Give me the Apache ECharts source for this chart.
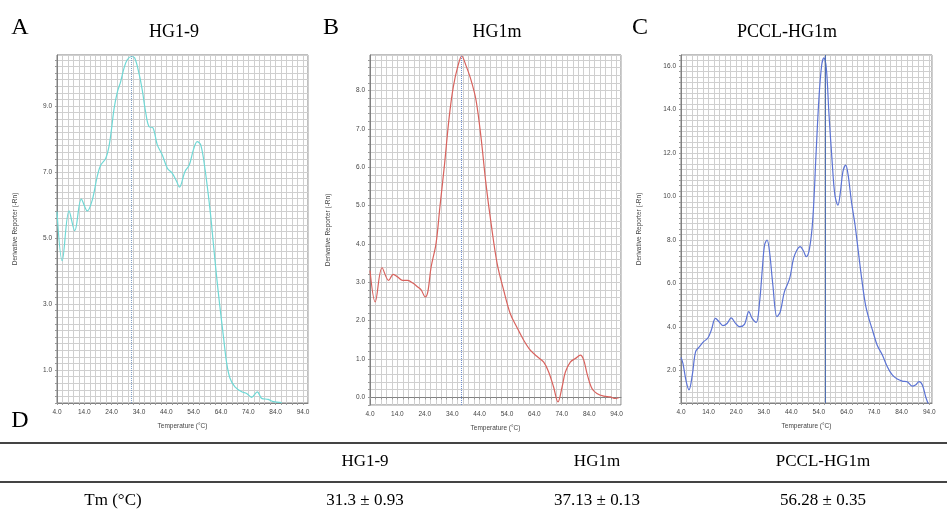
<!DOCTYPE html>
<html><head><meta charset="utf-8">
<script src="https://cdn.jsdelivr.net/npm/echarts@6/dist/echarts.min.js"></script>
<style>html,body{margin:0;padding:0;background:#fff}#c{width:947px;height:512px}</style>
</head><body><div id="c"></div>
<script>
// ---- data ----
const panelTitles = ['HG1-9', 'HG1m', 'PCCL-HG1m'];
const panelLetters = ['A', 'B', 'C'];
const tmValues = [31.3, 37.13, 56.28];
const tmText = ['31.3 ± 0.93', '37.13 ± 0.13', '56.28 ± 0.35'];
const xTickLabels = [4, 14, 24, 34, 44, 54, 64, 74, 84, 94];
const yTicksA = [1, 3, 5, 7, 9];
const yTicksB = [0, 1, 2, 3, 4, 5, 6, 7, 8];
const yTicksC = [2, 4, 6, 8, 10, 12, 14, 16];

const tempA = [4.0, 5.9, 8.4, 10.5, 12.9, 15.1, 16.9, 18.7, 20.0, 21.8, 23.0, 23.9, 24.9, 26.1, 27.3, 28.5, 29.7, 31.2, 32.4, 34.0, 35.2, 36.5, 37.7, 39.1, 40.7, 42.5, 44.4, 46.2, 47.8, 48.8, 50.8, 52.4, 53.9, 55.3, 56.6, 58.2, 60.0, 61.2, 62.4, 63.6, 64.9, 66.1, 67.3, 69.1, 71.6, 73.4, 75.2, 77.3, 78.9, 81.3, 83.1, 86.2];
const valA  = [5.8, 4.31, 5.82, 5.22, 6.18, 5.82, 6.15, 6.86, 7.21, 7.41, 7.77, 8.27, 8.93, 9.43, 9.74, 10.14, 10.4, 10.5, 10.46, 9.99, 9.48, 8.78, 8.37, 8.34, 7.82, 7.52, 7.11, 6.96, 6.71, 6.54, 7.01, 7.21, 7.67, 7.92, 7.82, 7.06, 5.85, 4.84, 3.83, 2.92, 2.01, 1.2, 0.75, 0.49, 0.34, 0.29, 0.17, 0.34, 0.14, 0.11, 0.04, 0.01];

const tempB = [4.0, 5.9, 8.4, 10.8, 12.5, 14.1, 15.9, 17.8, 19.6, 21.4, 22.6, 24.2, 25.1, 26.3, 28.1, 29.5, 31.1, 32.9, 34.4, 36.0, 37.5, 39.0, 40.9, 42.7, 44.5, 46.3, 48.2, 50.4, 52.8, 55.2, 57.6, 60.1, 62.5, 64.9, 67.4, 69.2, 71.0, 72.6, 74.1, 75.3, 77.1, 78.9, 80.8, 82.0, 83.2, 85.0, 86.8, 89.3, 91.7, 93.5, 94.8];
const valB  = [3.31, 2.49, 3.38, 3.05, 3.21, 3.14, 3.05, 3.05, 2.98, 2.88, 2.81, 2.62, 2.75, 3.4, 4.01, 4.96, 6.01, 7.31, 8.1, 8.62, 8.9, 8.66, 8.27, 7.75, 6.79, 5.58, 4.53, 3.49, 2.79, 2.18, 1.83, 1.49, 1.23, 1.07, 0.92, 0.66, 0.27, -0.12, 0.27, 0.66, 0.92, 1.01, 1.1, 0.97, 0.62, 0.23, 0.1, 0.03, 0.01, -0.03, -0.01];

const tempC = [4.0, 4.7, 5.9, 6.9, 8.1, 9.3, 10.7, 12.2, 13.8, 15.0, 16.5, 17.8, 19.2, 20.7, 22.2, 23.8, 25.2, 27.0, 28.6, 29.8, 31.3, 32.5, 33.5, 34.3, 35.2, 36.1, 37.3, 38.8, 40.0, 41.5, 43.4, 44.8, 46.0, 47.2, 48.4, 49.4, 50.6, 51.8, 53.0, 54.0, 55.0, 55.8, 56.7, 57.6, 58.8, 59.8, 60.9, 61.8, 62.7, 63.7, 64.6, 65.8, 67.1, 68.3, 69.5, 70.9, 72.1, 73.6, 75.1, 77.0, 78.8, 80.6, 82.4, 84.2, 86.0, 87.8, 89.0, 90.3, 91.5, 92.7, 93.7];
const valC  = [2.6, 2.32, 1.48, 1.1, 1.79, 2.86, 3.09, 3.32, 3.5, 3.86, 4.39, 4.24, 4.06, 4.16, 4.42, 4.16, 4.01, 4.12, 4.7, 4.39, 4.21, 5.16, 6.69, 7.77, 8.0, 7.46, 5.93, 4.47, 4.7, 5.62, 6.23, 7.15, 7.53, 7.69, 7.49, 7.23, 7.61, 8.99, 12.06, 14.5, 16.04, 16.38, 15.89, 13.89, 11.6, 10.06, 9.6, 10.22, 11.14, 11.44, 10.98, 9.76, 8.69, 7.46, 6.23, 5.01, 4.39, 3.78, 3.17, 2.71, 2.17, 1.79, 1.6, 1.51, 1.48, 1.28, 1.33, 1.48, 1.33, 0.79, 0.44];

const lineColors = ['#6fd8d5', '#d8625d', '#5b73d4'];
const markColors = ['#7f9fc8', '#6f8fd0', '#4f6fb0'];

// ---- build ----
const zip = (a, b) => a.map((t, i) => [t, b[i]]);
const near = (v, arr) => arr.some(t => Math.abs(v - t) < 1e-6);

const grids = [
  {left: 57, top: 55, width: 251, height: 348},
  {left: 370, top: 55, width: 251, height: 350},
  {left: 681, top: 55, width: 251, height: 348}
];
const xMax = [95.84, 95.6, 95.0];
const yCfg = [
  {min: 0, max: 10.545, interval: 0.2, ticks: yTicksA},
  {min: -0.2, max: 8.93, interval: 0.2, ticks: yTicksB},
  {min: 0.5, max: 16.51, interval: 0.25, ticks: yTicksC}
];
const seriesData = [zip(tempA, valA), zip(tempB, valB), zip(tempC, valC)];

const labelStyle = {fontSize: 6.5, color: '#444', fontFamily: 'Liberation Sans, Arial, sans-serif'};
const gridLine = {show: true, lineStyle: {color: '#cfcfcf', width: 1}};

const option = {
  backgroundColor: '#fff',
  animation: false,
  grid: grids.map(g => Object.assign({show: true, borderColor: '#808080', borderWidth: 1, backgroundColor: '#fff'}, g)),
  xAxis: grids.map((g, i) => ({
    type: 'value', gridIndex: i, min: 4, max: xMax[i], interval: 2,
    name: 'Temperature (°C)', nameLocation: 'middle', nameGap: 20,
    nameTextStyle: {fontSize: 6.5, color: '#444', fontFamily: 'Liberation Sans, Arial, sans-serif'},
    axisLine: {show: true, lineStyle: {color: '#808080'}},
    axisTick: {show: true, length: 2, lineStyle: {color: '#999'}},
    axisLabel: Object.assign({margin: 6, showMaxLabel: false, formatter: v => near(v, xTickLabels) ? v.toFixed(1) : ''}, labelStyle),
    splitLine: gridLine
  })),
  yAxis: grids.map((g, i) => ({
    type: 'value', gridIndex: i, min: yCfg[i].min, max: yCfg[i].max, interval: yCfg[i].interval,
    name: 'Derivative Reporter (-Rn)', nameLocation: 'middle', nameGap: 38, nameRotate: 90,
    nameTextStyle: {fontSize: 6.5, color: '#444', fontFamily: 'Liberation Sans, Arial, sans-serif'},
    axisLine: {show: true, lineStyle: {color: '#808080'}},
    axisTick: {show: true, length: 2, lineStyle: {color: '#999'}},
    axisLabel: Object.assign({margin: 5, showMaxLabel: false, showMinLabel: true, formatter: v => near(v, yCfg[i].ticks) ? v.toFixed(1) : ''}, labelStyle),
    splitLine: gridLine
  })),
  series: seriesData.map((d, i) => ({
    type: 'line', xAxisIndex: i, yAxisIndex: i, data: d, smooth: 0.35,
    showSymbol: false, symbol: 'none', clip: true,
    lineStyle: {color: lineColors[i], width: 1.2},
    markLine: {
      silent: true, symbol: 'none', label: {show: false},
      lineStyle: {color: markColors[i], width: 1, type: i === 2 ? 'solid' : 'dotted'},
      data: [{xAxis: tmValues[i]}]
    }
  })),
  graphic: []
};

const serif = '"Liberation Serif", "Times New Roman", serif';
const letterX = [20, 331, 640];
const titleX = [174, 497, 787];
panelLetters.forEach((l, i) => {
  option.graphic.push({type: 'text', x: letterX[i], y: 28, style: {text: l, font: '24px ' + serif, fill: '#000', textAlign: 'center', textVerticalAlign: 'middle'}});
  option.graphic.push({type: 'text', x: titleX[i], y: 32, style: {text: panelTitles[i], font: '18px ' + serif, fill: '#000', textAlign: 'center', textVerticalAlign: 'middle'}});
});
option.graphic.push({type: 'text', x: 20, y: 421, style: {text: 'D', font: '24px ' + serif, fill: '#000', textAlign: 'center', textVerticalAlign: 'middle'}});
option.graphic.push({type: 'line', shape: {x1: 0, y1: 443, x2: 947, y2: 443}, style: {stroke: '#444', lineWidth: 2}});
option.graphic.push({type: 'line', shape: {x1: 0, y1: 482, x2: 947, y2: 482}, style: {stroke: '#444', lineWidth: 2}});
const colX = [365, 597, 823];
panelTitles.forEach((t, i) => {
  option.graphic.push({type: 'text', x: colX[i], y: 462, style: {text: t, font: '17px ' + serif, fill: '#000', textAlign: 'center', textVerticalAlign: 'middle'}});
  option.graphic.push({type: 'text', x: colX[i], y: 501, style: {text: tmText[i], font: '17px ' + serif, fill: '#000', textAlign: 'center', textVerticalAlign: 'middle'}});
});
option.graphic.push({type: 'text', x: 113, y: 501, style: {text: 'Tm (°C)', font: '17px ' + serif, fill: '#000', textAlign: 'center', textVerticalAlign: 'middle'}});

echarts.init(document.getElementById('c'), null, {renderer: 'canvas'}).setOption(option);
</script>
</body></html>
